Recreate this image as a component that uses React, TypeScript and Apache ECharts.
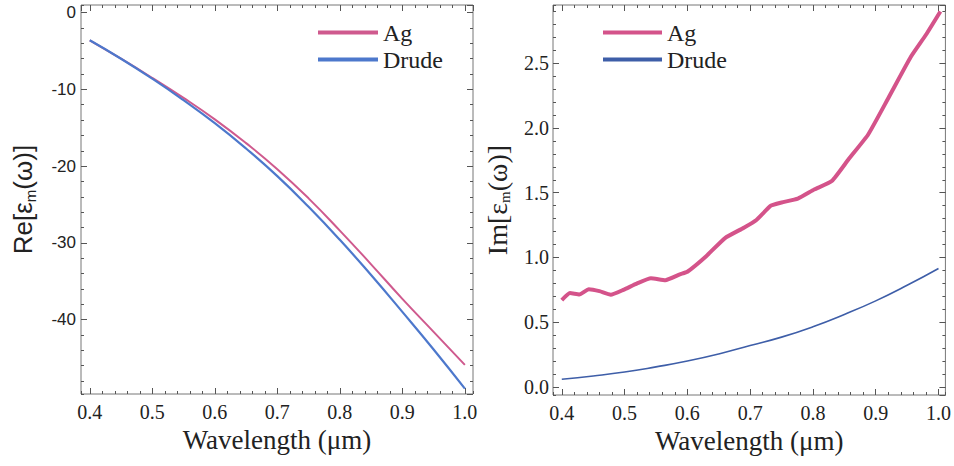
import React, { useEffect, useRef } from "react";
import * as echarts from "echarts";

// ---- data ----
const leftX = [0.4, 0.45, 0.5, 0.55, 0.6, 0.65, 0.7, 0.75, 0.8, 0.85, 0.9, 0.95, 1.0];
const leftAg = [-3.6, -6.0, -8.5, -11.1, -13.9, -17.0, -20.4, -24.2, -28.4, -32.8, -37.3, -41.6, -45.9];
const leftDrude = [-3.6, -6.0, -8.6, -11.4, -14.4, -17.7, -21.3, -25.3, -29.6, -34.2, -39.0, -43.9, -49.0];

const rightAgX = [0.4, 0.413, 0.428, 0.443, 0.46, 0.478, 0.498, 0.52, 0.542, 0.565, 0.588, 0.6, 0.63, 0.66, 0.69, 0.71, 0.733, 0.75, 0.776, 0.802, 0.83, 0.857, 0.888, 0.92, 0.956, 0.98, 1.003];
const rightAgY = [0.67, 0.725, 0.715, 0.755, 0.74, 0.712, 0.75, 0.8, 0.84, 0.825, 0.87, 0.89, 1.01, 1.15, 1.23, 1.29, 1.4, 1.425, 1.455, 1.525, 1.59, 1.76, 1.95, 2.23, 2.55, 2.72, 2.9];
const rightDrudeX = [0.4, 0.45, 0.5, 0.55, 0.6, 0.65, 0.7, 0.75, 0.8, 0.85, 0.9, 0.95, 1.0];
const rightDrudeY = [0.06, 0.085, 0.115, 0.155, 0.2, 0.255, 0.32, 0.385, 0.465, 0.56, 0.665, 0.785, 0.915];

const seriesNames = ["Ag", "Drude"];
const xTitle = "Wavelength (\u03bcm)";

const SERIF = "Liberation Serif, Times New Roman, serif";
const SANS = "Liberation Sans, Arial, sans-serif";
const AG_L = "#cf5a8e";
const DR_L = "#4d78cc";
const AG_R = "#d4538a";
const DR_R = "#3e5ea8";
const TICK = "#555";

const pairs = (xs: number[], ys: number[]) => xs.map((x, i) => [x, ys[i]]);

export default function App() {
  const ref = useRef<HTMLDivElement>(null);
  useEffect(() => {
    document.body.style.margin = "0";
    const chart = echarts.init(ref.current!, undefined, { renderer: "svg" });

    const xr = [
      { min: 0.386, max: 1.013 },
      { min: 0.386, max: 1.011 },
    ];
    const yr = [
      { min: -49.7, max: 1.0, major: 5, minor: 25 },
      { min: -0.062, max: 2.95, major: 6, minor: 30 },
    ];

    const xAxes: any[] = [];
    const yAxes: any[] = [];
    for (let g = 0; g < 2; g++) {
      const base = {
        type: "value",
        gridIndex: g,
        min: xr[g].min,
        max: xr[g].max,
        axisLine: { show: false, onZero: false },
        splitLine: { show: false },
      };
      xAxes.push({
        ...base,
        position: "bottom",
        splitNumber: 6,
        axisTick: { show: true, inside: true, length: 6, lineStyle: { color: TICK } },
        axisLabel: {
          show: true,
          showMinLabel: false,
          showMaxLabel: false,
          margin: 8,
          fontSize: 20,
          fontFamily: SERIF,
          color: "#222",
          formatter: (v: number) => v.toFixed(1),
        },
        name: xTitle,
        nameLocation: "middle",
        nameGap: 32,
        nameTextStyle: { fontSize: 27, fontFamily: SERIF, color: "#222" },
      });
      xAxes.push({
        ...base,
        position: "bottom",
        splitNumber: 31,
        axisTick: { show: true, inside: true, length: 3, lineStyle: { color: TICK } },
        axisLabel: { show: false },
      });
      xAxes.push({
        ...base,
        position: "top",
        splitNumber: 6,
        axisTick: { show: true, inside: true, length: 6, lineStyle: { color: TICK } },
        axisLabel: { show: false },
      });
      xAxes.push({
        ...base,
        position: "top",
        splitNumber: 31,
        axisTick: { show: true, inside: true, length: 3, lineStyle: { color: TICK } },
        axisLabel: { show: false },
      });

      const ybase = {
        type: "value",
        gridIndex: g,
        min: yr[g].min,
        max: yr[g].max,
        axisLine: { show: false, onZero: false },
        splitLine: { show: false },
      };
      const left = g === 0;
      yAxes.push({
        ...ybase,
        position: "left",
        splitNumber: yr[g].major,
        axisTick: { show: true, inside: true, length: 6, lineStyle: { color: TICK } },
        axisLabel: {
          show: true,
          showMinLabel: false,
          showMaxLabel: false,
          margin: left ? 5 : 4,
          fontSize: left ? 17 : 20,
          fontFamily: left ? SANS : SERIF,
          color: "#222",
          formatter: (v: number) => (left ? String(Math.round(v)) : v.toFixed(1)),
        },
        name: left ? "{a|Re[\u03b5}{s|m}{a|(\u03c9)]}" : "{a|Im[\u03b5}{s|m}{a|(\u03c9)]}",
        nameLocation: "middle",
        nameRotate: 90,
        nameGap: left ? 43 : 41,
        nameTextStyle: {
          color: "#222",
          rich: {
            a: { fontSize: left ? 26 : 28, fontFamily: left ? SANS : SERIF, color: "#222", lineHeight: 30 },
            s: { fontSize: 15, fontFamily: left ? SANS : SERIF, color: "#222", verticalAlign: "bottom" },
          },
        },
      });
      yAxes.push({
        ...ybase,
        position: "left",
        splitNumber: yr[g].minor,
        axisTick: { show: true, inside: true, length: 3, lineStyle: { color: TICK } },
        axisLabel: { show: false },
      });
      yAxes.push({
        ...ybase,
        position: "right",
        splitNumber: yr[g].major,
        axisTick: { show: true, inside: true, length: 6, lineStyle: { color: TICK } },
        axisLabel: { show: false },
      });
      yAxes.push({
        ...ybase,
        position: "right",
        splitNumber: yr[g].minor,
        axisTick: { show: true, inside: true, length: 3, lineStyle: { color: TICK } },
        axisLabel: { show: false },
      });
    }

    const legendBase = {
      orient: "vertical",
      icon: "rect",
      itemHeight: 4,
      itemGap: 0,
      padding: 0,
      selectedMode: false,
      textStyle: { fontSize: 24, fontFamily: SERIF, color: "#222", lineHeight: 27 },
    };

    chart.setOption({
      animation: false,
      backgroundColor: "#fff",
      textStyle: { fontFamily: SERIF },
      grid: [
        { left: 81, right: 481, top: 5, bottom: 72, show: true, borderColor: "#777", borderWidth: 1 },
        { left: 553, right: 2, top: 5, bottom: 71, show: true, borderColor: "#777", borderWidth: 1 },
      ],
      legend: [
        {
          ...legendBase,
          left: 318,
          top: 19,
          itemWidth: 60,
          data: [
            { name: seriesNames[0], itemStyle: { color: AG_L } },
            { name: seriesNames[1], itemStyle: { color: DR_L } },
          ],
        },
        {
          ...legendBase,
          left: 603,
          top: 19,
          itemWidth: 59,
          data: [
            { name: seriesNames[0], itemStyle: { color: AG_R } },
            { name: seriesNames[1], itemStyle: { color: DR_R } },
          ],
        },
      ],
      xAxis: xAxes,
      yAxis: yAxes,
      series: [
        {
          name: seriesNames[0],
          type: "line",
          xAxisIndex: 0,
          yAxisIndex: 0,
          data: pairs(leftX, leftAg),
          showSymbol: false,
          smooth: 0.5,
          lineStyle: { color: AG_L, width: 2 },
          itemStyle: { color: AG_L },
          z: 3,
        },
        {
          name: seriesNames[1],
          type: "line",
          xAxisIndex: 0,
          yAxisIndex: 0,
          data: pairs(leftX, leftDrude),
          showSymbol: false,
          smooth: 0.5,
          lineStyle: { color: DR_L, width: 2.2 },
          itemStyle: { color: DR_L },
          z: 4,
        },
        {
          name: seriesNames[0],
          type: "line",
          xAxisIndex: 4,
          yAxisIndex: 4,
          data: pairs(rightAgX, rightAgY),
          showSymbol: false,
          smooth: 0.15,
          lineStyle: { color: AG_R, width: 4, join: "round" },
          itemStyle: { color: AG_R },
        },
        {
          name: seriesNames[1],
          type: "line",
          xAxisIndex: 4,
          yAxisIndex: 4,
          data: pairs(rightDrudeX, rightDrudeY),
          showSymbol: false,
          smooth: 0.5,
          lineStyle: { color: DR_R, width: 1.6 },
          itemStyle: { color: DR_R },
        },
      ],
    });
    return () => chart.dispose();
  }, []);
  return <div ref={ref} style={{ width: 954, height: 466 }} />;
}
